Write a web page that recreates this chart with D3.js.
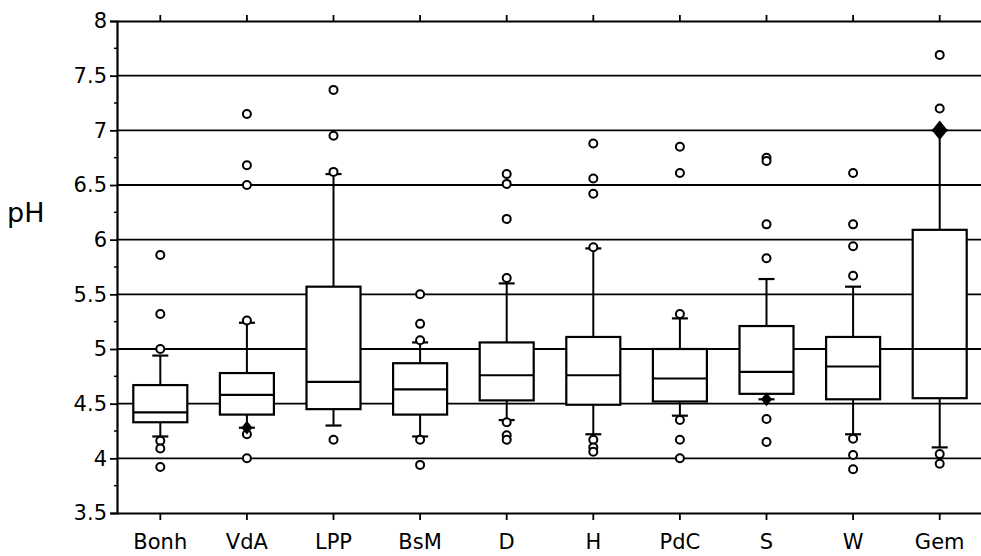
<!DOCTYPE html>
<html>
<head>
<meta charset="utf-8">
<script src="https://cdn.jsdelivr.net/npm/d3@7"></script>
<style>
  body { margin: 0; background: #fff; }
  svg text { font-family: "DejaVu Sans", Verdana, sans-serif; fill: #000; }
</style>
</head>
<body>
<div id="chart"></div>
<script>
// Chart values
const categories = ["Bonh", "VdA", "LPP", "BsM", "D", "H", "PdC", "S", "W", "Gem"];
const q1 =          [4.33, 4.40, 4.45, 4.40, 4.53, 4.49, 4.52, 4.59, 4.54, 4.55];
const medians =     [4.42, 4.58, 4.70, 4.63, 4.76, 4.76, 4.73, 4.79, 4.84, 5.00];
const q3 =          [4.67, 4.78, 5.57, 4.87, 5.06, 5.11, 5.00, 5.21, 5.11, 6.09];
const whiskerLow =  [4.20, 4.28, 4.30, 4.20, 4.35, 4.22, 4.39, 4.54, 4.22, 4.10];
const whiskerHigh = [4.94, 5.24, 6.60, 5.06, 5.60, 5.92, 5.28, 5.64, 5.57, 7.00];
const outliers = [
  [5.86, 5.32, 5.00, 4.16, 4.09, 3.92],
  [7.15, 6.68, 6.50, 5.26, 4.22, 4.00],
  [7.37, 6.95, 6.62, 4.17],
  [5.50, 5.23, 5.08, 4.17, 3.94],
  [6.60, 6.51, 6.19, 5.65, 4.33, 4.21, 4.17],
  [6.88, 6.56, 6.42, 5.93, 4.17, 4.10, 4.06],
  [6.85, 6.61, 5.32, 4.35, 4.17, 4.00],
  [6.75, 6.72, 6.14, 5.83, 4.36, 4.15],
  [6.61, 6.14, 5.94, 5.67, 4.18, 4.03, 3.90],
  [7.69, 7.20, 4.04, 3.95]
];
// filled markers sitting on some whisker ends
const filledCats = ["Gem", "VdA", "S"];
const filledVals = [7.00, 4.28, 4.54];
const yTicks = [3.5, 4, 4.5, 5, 5.5, 6, 6.5, 7, 7.5, 8];

const width = 981, height = 556;
const margin = {top: 21, right: -2, bottom: 43, left: 117};

const svg = d3.select("#chart")
    .append("svg")
    .attr("width", width)
    .attr("height", height);

const x = d3.scaleBand()
    .domain(categories)
    .range([margin.left, width - margin.right])
    .padding(0);

const y = d3.scaleLinear()
    .domain([3.5, 8])
    .range([height - margin.bottom, margin.top]);

// gridlines
svg.append("g")
    .selectAll("line")
    .data(yTicks.filter(d => d > 3.5 && d < 8))
    .enter()
    .append("line")
    .attr("x1", margin.left)
    .attr("x2", width)
    .attr("y1", d => y(d))
    .attr("y2", d => y(d))
    .attr("stroke", "#000")
    .attr("stroke-width", 1.8);

// left axis
const yAxis = svg.append("g")
    .attr("transform", `translate(${margin.left},0)`)
    .call(d3.axisLeft(y).tickValues(yTicks).tickSize(7).tickFormat(d => String(d)));
yAxis.select(".domain").attr("stroke-width", 2.2);
yAxis.selectAll(".tick line").attr("stroke-width", 1.8);
yAxis.selectAll("text")
    .attr("x", -10)
    .style("font-size", "21px");

// minor ticks on y
svg.append("g")
    .selectAll("line")
    .data(d3.range(3.75, 8, 0.5))
    .enter()
    .append("line")
    .attr("x1", margin.left - 3)
    .attr("x2", margin.left)
    .attr("y1", d => y(d))
    .attr("y2", d => y(d))
    .attr("stroke", "#000")
    .attr("stroke-width", 1.5);

// bottom axis
const xAxis = svg.append("g")
    .attr("transform", `translate(0,${height - margin.bottom})`)
    .call(d3.axisBottom(x).tickSize(7).tickSizeOuter(0));
xAxis.select(".domain").attr("stroke-width", 2.2);
xAxis.selectAll(".tick line").attr("stroke-width", 1.8);
xAxis.selectAll("text")
    .attr("y", 21)
    .style("font-size", "21px");

// top axis
const topAxis = svg.append("g")
    .attr("transform", `translate(0,${margin.top})`)
    .call(d3.axisTop(x).tickSize(6).tickSizeOuter(0).tickFormat(""));
topAxis.select(".domain").attr("stroke-width", 2.2);
topAxis.selectAll(".tick line").attr("stroke-width", 1.8);

// y label
svg.append("text")
    .attr("x", 7)
    .attr("y", 222)
    .style("font-size", "27px")
    .text("pH");

// boxes
const boxW = 54, capW = 16;
const boxes = svg.append("g")
    .selectAll("g")
    .data(categories)
    .enter()
    .append("g");

boxes.append("line")
    .attr("x1", d => x(d) + x.bandwidth() / 2)
    .attr("x2", d => x(d) + x.bandwidth() / 2)
    .attr("y1", (d, i) => y(whiskerLow[i]))
    .attr("y2", (d, i) => y(whiskerHigh[i]))
    .attr("stroke", "#000")
    .attr("stroke-width", 2);

boxes.selectAll(".cap")
    .data((d, i) => [whiskerLow[i], whiskerHigh[i]].map(v => ({c: d, v: v})))
    .enter()
    .append("line")
    .attr("x1", d => x(d.c) + x.bandwidth() / 2 - capW / 2)
    .attr("x2", d => x(d.c) + x.bandwidth() / 2 + capW / 2)
    .attr("y1", d => y(d.v))
    .attr("y2", d => y(d.v))
    .attr("stroke", "#000")
    .attr("stroke-width", 2.2);

boxes.append("rect")
    .attr("x", d => x(d) + x.bandwidth() / 2 - boxW / 2)
    .attr("width", boxW)
    .attr("y", (d, i) => y(q3[i]))
    .attr("height", (d, i) => y(q1[i]) - y(q3[i]))
    .attr("fill", "#fff")
    .attr("stroke", "#000")
    .attr("stroke-width", 2.2);

boxes.append("line")
    .attr("x1", d => x(d) + x.bandwidth() / 2 - boxW / 2)
    .attr("x2", d => x(d) + x.bandwidth() / 2 + boxW / 2)
    .attr("y1", (d, i) => y(medians[i]))
    .attr("y2", (d, i) => y(medians[i]))
    .attr("stroke", "#000")
    .attr("stroke-width", 2.2);

// outliers
boxes.selectAll("circle")
    .data((d, i) => outliers[i].map(v => ({c: d, v: v})))
    .enter()
    .append("circle")
    .attr("cx", d => x(d.c) + x.bandwidth() / 2)
    .attr("cy", d => y(d.v))
    .attr("r", 4)
    .attr("fill", "#fff")
    .attr("stroke", "#000")
    .attr("stroke-width", 2);

// filled markers
svg.append("g")
    .selectAll("path")
    .data(filledCats)
    .enter()
    .append("path")
    .attr("transform", (d, i) => `translate(${x(d) + x.bandwidth() / 2},${y(filledVals[i])}) scale(1.4,1)`)
    .attr("d", (d, i) => d3.symbol().type(d3.symbolDiamond).size(i === 0 ? 110 : 55)())
    .attr("fill", "#000");
</script>
</body>
</html>
